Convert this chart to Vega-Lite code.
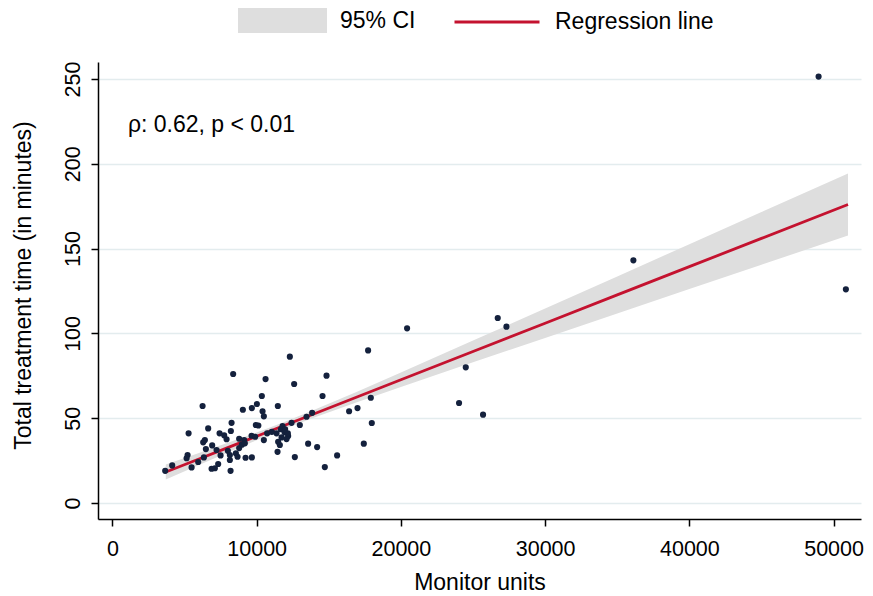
{
  "$schema": "https://vega.github.io/schema/vega-lite/v6.json",
  "width": 763,
  "height": 457,
  "autosize": {"type": "none"},
  "padding": {"left": 98, "top": 62, "right": 12, "bottom": 77},
  "background": "white",
  "config": {"view": {"stroke": null}, "font": "Liberation Sans"},
  "datasets": {
    "points": [
      {"mu": 12301, "t": 86.3}, {"mu": 8371, "t": 76.1}, {"mu": 10617, "t": 73.1}, {"mu": 14844, "t": 75.1},
      {"mu": 12599, "t": 70.2}, {"mu": 10360, "t": 63.1}, {"mu": 14567, "t": 63.1}, {"mu": 6251, "t": 57.2},
      {"mu": 9044, "t": 55.0}, {"mu": 9667, "t": 56.0}, {"mu": 10014, "t": 58.4}, {"mu": 11469, "t": 57.2},
      {"mu": 10409, "t": 54.1}, {"mu": 10499, "t": 51.1}, {"mu": 16410, "t": 54.1}, {"mu": 8261, "t": 47.3},
      {"mu": 6639, "t": 44.0}, {"mu": 5281, "t": 41.1}, {"mu": 8212, "t": 42.5}, {"mu": 9945, "t": 46.0},
      {"mu": 10118, "t": 45.7}, {"mu": 7429, "t": 41.1}, {"mu": 7748, "t": 39.9}, {"mu": 7914, "t": 37.6},
      {"mu": 8787, "t": 37.9}, {"mu": 9134, "t": 37.1}, {"mu": 9647, "t": 39.7}, {"mu": 9896, "t": 39.1},
      {"mu": 10499, "t": 37.1}, {"mu": 10728, "t": 41.1}, {"mu": 11054, "t": 42.0}, {"mu": 11379, "t": 41.1},
      {"mu": 11677, "t": 43.5}, {"mu": 11795, "t": 45.4}, {"mu": 11934, "t": 41.7}, {"mu": 12183, "t": 39.5},
      {"mu": 12072, "t": 37.7}, {"mu": 11726, "t": 38.7}, {"mu": 12419, "t": 47.3}, {"mu": 12994, "t": 46.0},
      {"mu": 13458, "t": 50.9}, {"mu": 13846, "t": 53.2}, {"mu": 6293, "t": 35.8}, {"mu": 6410, "t": 37.1},
      {"mu": 6916, "t": 34.0}, {"mu": 6480, "t": 31.8}, {"mu": 7221, "t": 31.3}, {"mu": 8004, "t": 30.8},
      {"mu": 8143, "t": 28.3}, {"mu": 7498, "t": 28.1}, {"mu": 8559, "t": 29.3}, {"mu": 8787, "t": 32.4},
      {"mu": 8974, "t": 34.4}, {"mu": 9182, "t": 35.2}, {"mu": 9231, "t": 26.7}, {"mu": 9667, "t": 26.9},
      {"mu": 8143, "t": 25.4}, {"mu": 8676, "t": 27.3}, {"mu": 11448, "t": 30.2}, {"mu": 11608, "t": 34.2},
      {"mu": 11490, "t": 36.1}, {"mu": 12647, "t": 27.1}, {"mu": 13569, "t": 35.0}, {"mu": 14193, "t": 33.0},
      {"mu": 15579, "t": 28.1}, {"mu": 14726, "t": 21.2}, {"mu": 8191, "t": 19.0}, {"mu": 7332, "t": 23.0},
      {"mu": 7103, "t": 20.5}, {"mu": 6875, "t": 20.2}, {"mu": 5489, "t": 21.0}, {"mu": 5211, "t": 28.3},
      {"mu": 5142, "t": 26.4}, {"mu": 5946, "t": 24.2}, {"mu": 6341, "t": 26.9}, {"mu": 4144, "t": 22.2},
      {"mu": 3659, "t": 19.0}, {"mu": 12162, "t": 41.1}, {"mu": 17727, "t": 90.0}, {"mu": 17914, "t": 62.1},
      {"mu": 16992, "t": 56.0}, {"mu": 17983, "t": 47.2}, {"mu": 17429, "t": 35.0}, {"mu": 11975, "t": 43.5},
      {"mu": 20430, "t": 103.0}, {"mu": 26715, "t": 109.1}, {"mu": 27318, "t": 104.0}, {"mu": 24498, "t": 80.0},
      {"mu": 24033, "t": 59.0}, {"mu": 25696, "t": 52.1}, {"mu": 36119, "t": 143.1}, {"mu": 50852, "t": 126.0},
      {"mu": 48960, "t": 251.4}
    ],
    "fit": [
      {"mu": 3700, "fit": 18.34, "lo": 13.94, "hi": 22.74},
      {"mu": 6000, "fit": 26.0, "lo": 22.5, "hi": 29.5},
      {"mu": 8000, "fit": 32.67, "lo": 29.86, "hi": 35.48},
      {"mu": 10000, "fit": 39.34, "lo": 37.04, "hi": 41.64},
      {"mu": 12000, "fit": 46.01, "lo": 43.91, "hi": 48.11},
      {"mu": 14000, "fit": 52.68, "lo": 50.38, "hi": 54.98},
      {"mu": 17000, "fit": 62.68, "lo": 59.54, "hi": 65.82},
      {"mu": 20000, "fit": 72.68, "lo": 68.40, "hi": 76.96},
      {"mu": 25000, "fit": 89.35, "lo": 82.94, "hi": 95.76},
      {"mu": 30000, "fit": 106.02, "lo": 97.37, "hi": 114.67},
      {"mu": 35000, "fit": 122.69, "lo": 111.76, "hi": 133.62},
      {"mu": 40000, "fit": 139.36, "lo": 126.14, "hi": 152.58},
      {"mu": 45000, "fit": 156.03, "lo": 140.50, "hi": 171.56},
      {"mu": 51000, "fit": 176.03, "lo": 157.73, "hi": 194.33}
    ],
    "note": [{"mu": 1074, "t": 222.9, "label": "ρ: 0.62, p < 0.01"}]
  },
  "layer": [
    {
      "data": {"name": "fit"},
      "mark": {"type": "area", "opacity": 1},
      "encoding": {
        "x": {
          "field": "mu", "type": "quantitative",
          "scale": {"domain": [-1000, 51900], "nice": false, "zero": false},
          "axis": {
            "title": "Monitor units", "values": [0, 10000, 20000, 30000, 40000, 50000], "format": "d",
            "grid": false, "domainColor": "#000", "domainWidth": 1.5, "tickColor": "#000", "tickWidth": 1.5,
            "tickSize": 7, "labelFontSize": 21.5, "labelColor": "#000", "labelPadding": 12,
            "labelFlush": false, "labelOverlap": false,
            "titleFontSize": 23, "titleFontWeight": "normal", "titleColor": "#000",
            "titleY": 70, "titleBaseline": "alphabetic"
          }
        },
        "y": {
          "field": "lo", "type": "quantitative",
          "scale": {"domain": [-9.4, 260], "nice": false, "zero": false},
          "axis": {
            "title": "Total treatment time (in minutes)", "values": [0, 50, 100, 150, 200, 250],
            "grid": true, "gridColor": "#e3ecee", "gridWidth": 1.5,
            "domainColor": "#000", "domainWidth": 1.5, "tickColor": "#000", "tickWidth": 1.5, "tickSize": 7,
            "labelAngle": -90, "labelAlign": "center", "labelBaseline": "bottom", "labelPadding": 6.5,
            "labelFontSize": 21.5, "labelColor": "#000", "labelFlush": false, "labelOverlap": false,
            "titleFontSize": 23, "titleFontWeight": "normal", "titleColor": "#000",
            "titleAngle": -90, "titleX": -68, "titleY": 223, "titleAlign": "center", "titleBaseline": "alphabetic"
          }
        },
        "y2": {"field": "hi"},
        "fill": {
          "datum": "95% CI", "type": "nominal",
          "scale": {"domain": ["95% CI"], "range": ["#dedede"]},
          "legend": {
            "orient": "none", "legendX": 140, "legendY": -86, "title": null, "padding": 0,
            "symbolType": "M-1,-0.28H1V0.28H-1Z", "symbolSize": 7921, "symbolStrokeWidth": 0,
            "symbolOpacity": 1,
            "labelFontSize": 23, "labelColor": "#000", "labelOffset": 13
          }
        }
      }
    },
    {
      "data": {"name": "fit"},
      "mark": {"type": "line", "strokeWidth": 2.8},
      "encoding": {
        "x": {"field": "mu", "type": "quantitative"},
        "y": {"field": "fit", "type": "quantitative"},
        "stroke": {
          "datum": "Regression line", "type": "nominal",
          "scale": {"domain": ["Regression line"], "range": ["#c4122f"]},
          "legend": {
            "orient": "none", "legendX": 355, "legendY": -84, "title": null, "padding": 0,
            "symbolType": "stroke", "symbolSize": 7225, "symbolStrokeWidth": 2.8,
            "labelFontSize": 23, "labelColor": "#000", "labelOffset": 14
          }
        }
      }
    },
    {
      "data": {"name": "points"},
      "mark": {"type": "circle", "size": 38, "opacity": 1, "color": "#14213d"},
      "encoding": {
        "x": {"field": "mu", "type": "quantitative"},
        "y": {"field": "t", "type": "quantitative"}
      }
    },
    {
      "data": {"name": "note"},
      "mark": {"type": "text", "align": "left", "baseline": "middle", "fontSize": 23, "color": "#000"},
      "encoding": {
        "x": {"field": "mu", "type": "quantitative"},
        "y": {"field": "t", "type": "quantitative"},
        "text": {"field": "label"}
      }
    }
  ]
}
